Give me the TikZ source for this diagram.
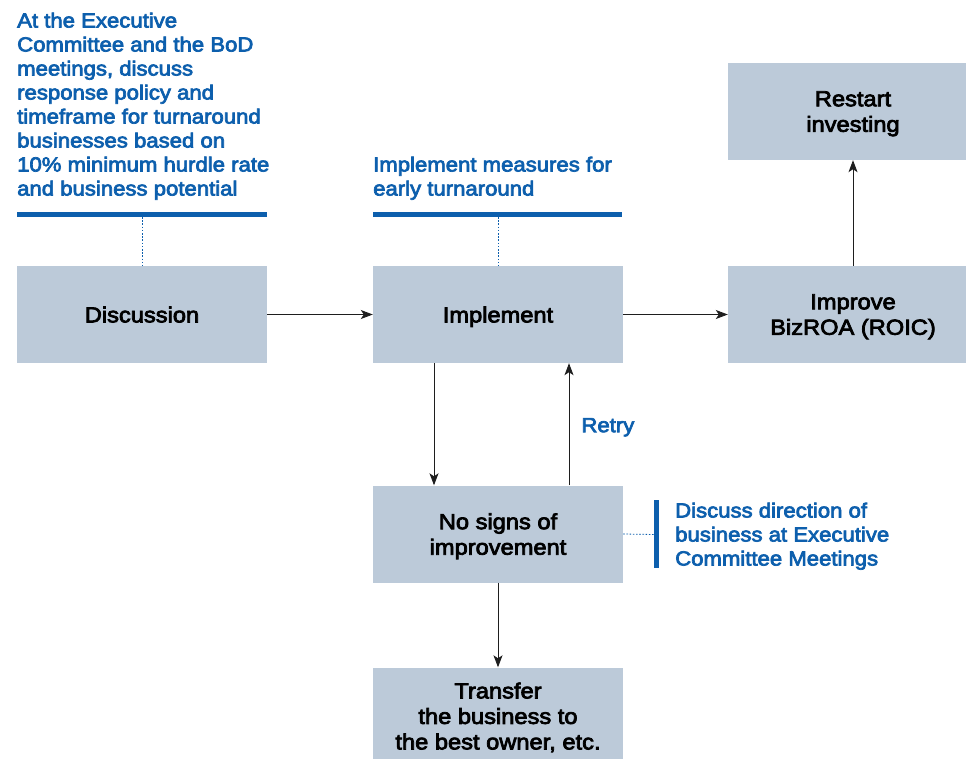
\documentclass[tikz,border=0pt]{standalone}
\usepackage{fontspec}
\usetikzlibrary{arrows.meta}
\newfontfamily\medfont[FakeBold=3.5,FakeStretch=1.085]{Liberation Sans}
\definecolor{boxfill}{HTML}{BCCAD9}
\definecolor{noteblue}{HTML}{0D5FAD}
\definecolor{arrowgrey}{HTML}{1E1E1E}
\tikzset{
  stage/.style={fill=boxfill, draw=none, minimum width=250pt, minimum height=97pt,
    inner sep=0pt, text depth=0pt, align=center,
    font=\medfont\fontsize{21.8}{25.5}\selectfont, text=black},
  note/.style={anchor=north west, inner sep=0pt, align=left, text=noteblue,
    font=\medfont\fontsize{20.4}{24}\selectfont},
  flow/.style={draw=arrowgrey, line width=0.9pt, -{Stealth[length=12pt,width=9pt,inset=3pt]}},
  tick/.style={draw=noteblue, line width=0.8pt, dash pattern=on 1.6pt off 1.6pt},
  rule/.style={draw=noteblue, line width=5pt}
}
\begin{document}
\begin{tikzpicture}[x=1pt,y=-1pt]
\useasboundingbox (0,0) rectangle (966,758);
\clip (0,0) rectangle (966,758);

% stage boxes
\node[stage] (disc) at (142,314.5) {Discussion};
\node[stage] (impl) at (498,314.5) {Implement};
\node[stage] (impr) at (853,314.5) {Improve\\BizROA (ROIC)};
\node[stage] (rest) at (853,111.5) {Restart\\investing};
\node[stage] (nosg) at (498,534) {No signs of\\improvement};
\node[stage] (trans) at (498,716) {Transfer\\the business to\\the best owner, etc.};

% notes above the first two stages
\node[note] (n1) at (17,12.5) {At the Executive\\Committee and the BoD\\meetings, discuss\\response policy and\\timeframe for turnaround\\businesses based on\\10\% minimum hurdle rate\\and business potential};
\coordinate (r1a) at (17,214.5);
\coordinate (r1b) at (267,214.5);
\draw[rule] (r1a) -- (r1b);
\coordinate (t1) at (142,217);
\draw[tick] (t1) -- (disc.north);

\node[note] (n2) at (373,156.5) {Implement measures for\\early turnaround};
\coordinate (r2a) at (373,214.5);
\coordinate (r2b) at (622,214.5);
\draw[rule] (r2a) -- (r2b);
\coordinate (t2) at (498,217);
\draw[tick] (t2) -- (impl.north);

% note beside the stalled stage
\coordinate (r3a) at (656.5,500);
\coordinate (r3b) at (656.5,568);
\draw[draw=noteblue, line width=5pt] (r3a) -- (r3b);
\draw[tick] (nosg.east) -- (654,534.5);
\node[note] (n3) at (675,502.5) {Discuss direction of\\business at Executive\\Committee Meetings};

% flow arrows
\draw[flow] (disc.east) -- (impl.west);
\draw[flow] (impl.east) -- (impr.west);
\draw[flow] (impr.north) -- (rest.south);
\draw[flow] ([xshift=-64pt]impl.south) -- ([xshift=-64pt]nosg.north);
\draw[flow] ([xshift=71pt]nosg.north) -- ([xshift=71pt]impl.south)
  node[pos=0.5, right=12pt, yshift=-3pt, text=noteblue, font=\medfont\fontsize{20.4}{24}\selectfont, inner sep=0pt] (retry) {Retry};
\draw[flow] (nosg.south) -- (trans.north);
\end{tikzpicture}
\end{document}
